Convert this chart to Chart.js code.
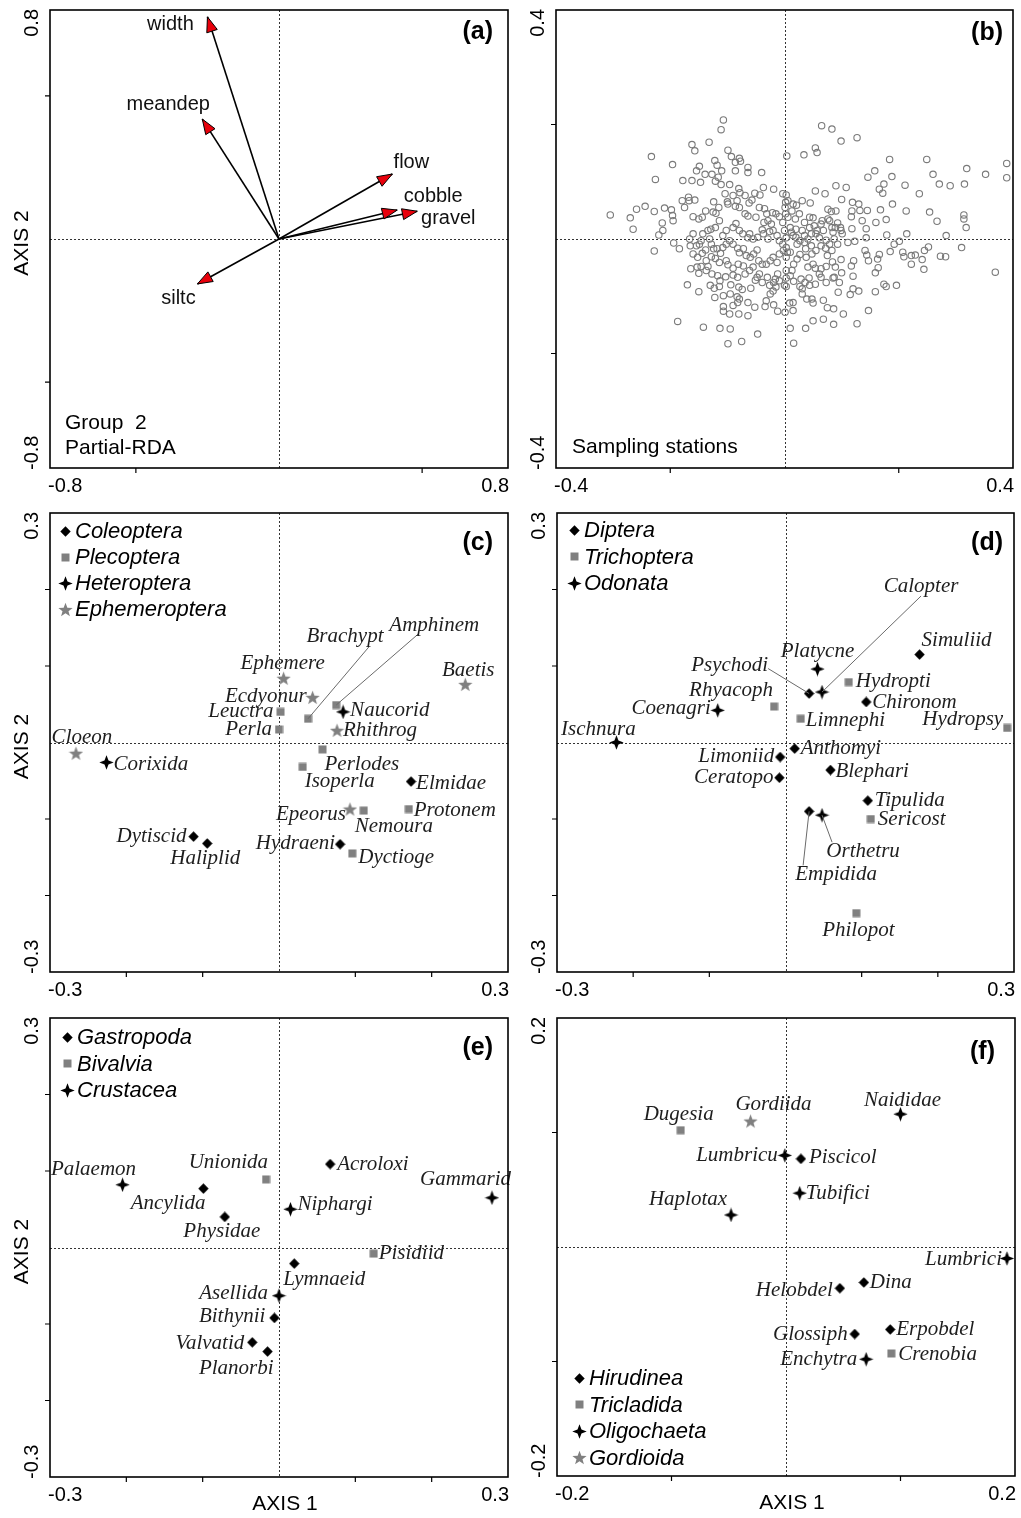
<!DOCTYPE html>
<html>
<head>
<meta charset="utf-8">
<script src="https://cdn.jsdelivr.net/npm/chart.js@4.4.1/dist/chart.umd.min.js"></script>
<style>
  html, body { margin: 0; padding: 0; background: #fff; }
  #wrap { position: relative; width: 1021px; height: 1518px; }
  canvas { position: absolute; }
</style>
</head>
<body>
<div id="wrap">
  <canvas id="pa" width="520" height="500" style="left:0;top:0"></canvas>
  <canvas id="pb" width="501" height="500" style="left:520px;top:0"></canvas>
  <canvas id="pc" width="520" height="505" style="left:0;top:500px"></canvas>
  <canvas id="pd" width="501" height="505" style="left:520px;top:500px"></canvas>
  <canvas id="pe" width="520" height="513" style="left:0;top:1005px"></canvas>
  <canvas id="pf" width="501" height="513" style="left:520px;top:1005px"></canvas>
</div>
<script>
// (a) environmental variables (biplot scores)
const envNames = ["width", "meandep", "flow", "cobble", "gravel", "siltc"];
const envAxis1 = [-0.250, -0.268, 0.396, 0.413, 0.483, -0.285];
const envAxis2 = [0.776, 0.419, 0.227, 0.101, 0.097, -0.157];

// (b) sampling stations [axis1, axis2]
const stationScores = [
  [-0.107,0.208],[-0.111,0.191],[0.065,0.198],[0.083,0.192],[0.127,0.177],[0.099,0.171],[-0.132,0.169],[-0.162,0.165],
  [-0.157,0.154],[-0.099,0.155],[0.054,0.159],[0.057,0.151],[-0.233,0.144],[0.004,0.145],[0.034,0.147],[-0.093,0.144],
  [-0.079,0.141],[-0.077,0.136],[-0.086,0.134],[-0.122,0.137],[-0.118,0.129],[-0.196,0.130],[0.184,0.139],[0.249,0.139],
  [0.389,0.132],[0.319,0.123],[0.352,0.113],[0.389,0.107],[0.260,0.113],[0.158,0.119],[0.146,0.108],[0.188,0.109],
  [0.271,0.096],[0.290,0.093],[0.315,0.096],[0.211,0.094],[0.236,0.079],[0.254,0.047],[0.267,0.031],[0.314,0.042],
  [0.314,0.035],[0.318,0.020],[0.283,0.006],[0.214,0.009],[0.310,-0.015],[0.273,-0.030],[0.282,-0.031],[0.369,-0.058],
  [0.244,-0.053],[0.213,0.049],[0.179,0.007],
  [-0.226,0.104],[-0.178,0.102],[-0.162,0.102],[-0.147,0.099],[-0.139,0.113],[-0.149,0.127],[-0.154,0.119],[-0.127,0.113],
  [-0.116,0.108],[-0.110,0.119],[-0.121,0.101],[-0.111,0.095],[-0.096,0.095],[-0.086,0.119],[-0.064,0.125],[-0.064,0.116],
  [-0.040,0.116],[-0.080,0.088],[-0.078,0.081],[-0.037,0.090],[-0.019,0.087],[-0.052,0.080],[-0.043,0.077],[-0.104,0.079],
  [-0.090,0.076],[-0.069,0.076],[-0.057,0.068],[-0.062,0.063],[-0.083,0.067],[-0.100,0.065],[-0.124,0.065],[-0.157,0.068],
  [-0.168,0.073],[-0.179,0.067],[-0.244,0.057],[-0.259,0.052],[-0.228,0.048],[-0.270,0.037],[-0.265,0.017],[-0.305,0.042],
  [-0.220,0.007],[-0.213,0.015],[-0.214,0.028],[-0.210,0.054],[-0.198,0.051],[-0.196,0.041],[-0.195,0.032],[-0.194,-0.007],
  [-0.184,-0.017],[-0.228,-0.021],[-0.160,0.039],[-0.150,0.035],[-0.175,0.055],[-0.167,0.067],[-0.144,0.038],[-0.138,0.049],
  [-0.125,0.047],[-0.120,0.045],[-0.115,0.055],[-0.099,0.061],[-0.086,0.057],[-0.079,0.055],[-0.069,0.044],[-0.064,0.040],
  [-0.050,0.038],[-0.044,0.055],[-0.035,0.053],[-0.031,0.044],[-0.021,0.046],[-0.015,0.044],[-0.029,0.032],[-0.036,0.029],
  [-0.023,0.026],[-0.009,0.039],[0.002,0.044],[0.001,0.055],[-0.003,0.079],[0.003,0.077],[0.006,0.067],[0.015,0.061],
  [0.021,0.059],[0.013,0.049],[0.031,0.067],[0.045,0.063],[0.054,0.084],[0.071,0.079],[0.090,0.093],[0.108,0.090],
  [0.100,0.069],[0.119,0.064],[0.130,0.061],[0.118,0.049],[0.132,0.050],[0.145,0.050],[0.168,0.051],[0.178,0.034],
  [0.160,0.029],[0.136,0.032],[0.117,0.039],[0.090,0.049],[0.082,0.048],[0.076,0.052],[0.076,0.035],[0.066,0.032],
  [0.050,0.037],[0.044,0.038],[0.035,0.029],[0.026,0.044],[0.019,0.035],[0.010,0.020],[0.020,0.017],[0.031,0.015],
  [0.035,0.006],[0.047,0.009],[0.057,0.015],[0.068,0.015],[0.061,0.002],[0.073,-0.002],[0.085,0.012],[0.089,0.020],
  [0.099,0.015],[0.087,0.000],[0.118,0.018],[0.143,0.018],[0.143,0.002],[0.123,-0.004],[0.141,-0.020],[0.144,-0.028],
  [0.147,-0.038],[0.166,-0.027],[0.163,-0.035],[0.164,-0.050],[0.159,-0.059],[0.185,-0.022],[0.192,-0.009],[0.201,-0.004],
  [0.207,-0.023],[0.209,-0.031],[0.222,-0.029],[0.229,-0.028],[0.222,-0.044],[0.241,-0.036],[0.245,-0.020],[0.252,-0.014],
  [-0.170,-0.080],[-0.150,-0.092],[-0.187,-0.144],[-0.142,-0.154],[-0.113,-0.156],[-0.095,-0.157],[-0.099,-0.183],[-0.075,-0.179],
  [-0.047,-0.166],[0.016,-0.182],[0.010,-0.156],[0.037,-0.156],[0.050,-0.143],[0.068,-0.140],[0.086,-0.149],[0.127,-0.148],
  [0.103,-0.131],[0.086,-0.122],[0.075,-0.120],[0.147,-0.125],[0.068,-0.107],[0.048,-0.105],[0.050,-0.112],[0.039,-0.105],
  [0.031,-0.096],[0.031,-0.087],[0.015,-0.111],[0.009,-0.112],[0.015,-0.125],[0.001,-0.128],[-0.012,-0.126],[-0.019,-0.115],
  [-0.034,-0.118],[-0.032,-0.108],[-0.052,-0.119],[-0.064,-0.134],[-0.080,-0.131],[-0.096,-0.131],[-0.107,-0.126],[-0.107,-0.118],
  [-0.090,-0.116],[-0.082,-0.111],[-0.079,-0.105],[-0.064,-0.111],[-0.083,-0.101],[-0.095,-0.096],[-0.107,-0.099],[-0.122,-0.102],
  [-0.130,-0.081],[-0.123,-0.086],[-0.114,-0.083],[-0.094,-0.080],[-0.080,-0.084],[-0.074,-0.088],[-0.059,-0.086],[-0.025,-0.096],
  [-0.020,-0.091],[-0.015,-0.084],[0.000,-0.081],[0.003,-0.068],[0.010,-0.064],[0.013,-0.055],[0.029,-0.070],[0.036,-0.076],
  [0.043,-0.068],[0.054,-0.079],[0.073,-0.076],[0.085,-0.068],[0.096,-0.076],[0.094,-0.093],[0.115,-0.097],[0.120,-0.087],
  [0.130,-0.091],[0.159,-0.092],[0.174,-0.079],[0.178,-0.083],[0.196,-0.081],[0.121,-0.038],[0.117,-0.047],[0.120,-0.065],
  [0.100,-0.059],[0.099,-0.036],[0.084,-0.040],[0.075,-0.029],[0.072,-0.016],[0.083,-0.020],[0.054,-0.051],[0.061,-0.061],
  [0.064,-0.052],[0.050,-0.044],[0.041,-0.049],[0.048,-0.026],[0.055,-0.020],[0.038,-0.032],[0.037,-0.017],[0.027,-0.027],
  [0.022,-0.035],[0.016,-0.044],[0.003,-0.055],[0.003,-0.032],[0.005,-0.023],[0.003,-0.015],[-0.003,-0.009],[-0.009,-0.003],
  [-0.013,0.006],[-0.020,0.015],[-0.026,0.013],[-0.029,0.000],[-0.037,0.009],[-0.039,0.016],[-0.047,0.003],[-0.055,0.000],
  [-0.061,0.009],[-0.064,0.002],[-0.073,0.009],[-0.079,0.015],[-0.085,0.027],[-0.090,0.020],[-0.102,0.015],[-0.108,0.006],
  [-0.114,0.032],[-0.121,0.020],[-0.129,0.017],[-0.134,0.015],[-0.143,0.009],[-0.146,-0.003],[-0.149,-0.009],[-0.154,-0.012],
  [-0.165,-0.012],[-0.166,0.000],[-0.160,0.009],[-0.131,0.000],[-0.128,-0.009],[-0.124,-0.017],[-0.118,-0.017],[-0.112,-0.025],
  [-0.108,-0.015],[-0.102,-0.009],[-0.096,-0.003],[-0.090,-0.009],[-0.082,-0.016],[-0.079,-0.024],[-0.072,-0.017],[-0.067,-0.029],
  [-0.060,-0.032],[-0.054,-0.026],[-0.048,-0.019],[-0.045,-0.038],[-0.039,-0.044],[-0.032,-0.044],[-0.025,-0.038],[-0.020,-0.032],
  [-0.013,-0.041],[-0.009,-0.026],[-0.002,-0.020],[0.010,-0.023],[0.022,-0.009],[0.027,-0.003],[0.035,-0.006],[0.047,-0.012],
  [0.064,-0.012],[0.079,-0.009],[0.093,-0.009],[0.101,0.009],[0.111,-0.006],[0.089,-0.049],[0.087,-0.067],[0.073,-0.048],
  [0.064,-0.067],[0.044,-0.081],[0.027,-0.083],[0.016,-0.074],[0.003,-0.083],[-0.009,-0.073],[-0.016,-0.070],[-0.030,-0.067],
  [-0.044,-0.061],[-0.051,-0.072],[-0.061,-0.055],[-0.072,-0.047],[-0.081,-0.044],[-0.090,-0.051],[-0.099,-0.045],[-0.102,-0.038],
  [-0.114,-0.041],[-0.121,-0.034],[-0.128,-0.031],[-0.137,-0.038],[-0.134,-0.048],[-0.146,-0.048],[-0.153,-0.049],[-0.164,-0.052],
  [-0.150,-0.060],[-0.137,-0.055],[-0.127,-0.061],[-0.117,-0.064],[-0.113,-0.073],[-0.103,-0.066],[-0.090,-0.063],[-0.082,-0.067],
  [-0.069,-0.061],[-0.055,-0.049],[-0.048,-0.067],[-0.039,-0.076],[-0.026,-0.081],[-0.019,-0.076],[-0.012,-0.061],[-0.160,-0.026],
  [-0.152,-0.032],[-0.144,-0.025],[-0.138,-0.019],
  [0.002,0.064],[0.006,0.038],[-0.003,0.029],[0.000,0.015],[0.003,0.002],[0.012,0.012],[0.015,0.006],[0.020,0.003],
  [0.044,0.020],[0.052,0.023],[0.055,0.009],[0.041,0.000],[0.064,0.026],[0.079,0.032],[0.093,0.028],[0.098,0.020],
  [0.083,0.020],[0.166,0.087],[0.174,0.096],[0.172,0.080],[0.189,0.061]
];

// (c) insects I
const cGroups = ["Coleoptera", "Plecoptera", "Heteroptera", "Ephemeroptera"];
const cTaxa = ["Dytiscid","Haliplid","Hydraeni","Elmidae","Leuctra","Perla","Brachypt","Amphinem","Perlodes","Isoperla",
  "Nemoura","Protonem","Dyctioge","Naucorid","Corixida","Ephemere","Ecdyonur","Rhithrog","Epeorus","Baetis","Cloeon"];
const cGroup = [0,0,0,0,1,1,1,1,1,1,1,1,1,2,2,3,3,3,3,3,3];
const cAxis1 = [-0.112,-0.094,0.080,0.173,0.002,0.000,0.038,0.075,0.057,0.031,0.111,0.170,0.096,0.084,-0.226,0.006,0.044,0.076,0.093,0.244,-0.266];
const cAxis2 = [-0.123,-0.132,-0.133,-0.051,0.040,0.017,0.031,0.049,-0.009,-0.032,-0.089,-0.087,-0.145,0.040,-0.026,0.084,0.059,0.016,-0.087,0.076,-0.014];

// (d) insects II
const dGroups = ["Diptera", "Trichoptera", "Odonata"];
const dTaxa = ["Psychodi","Simuliid","Chironom","Anthomyi","Limoniid","Ceratopo","Blephari","Tipulida","Empidida",
  "Hydropti","Rhyacoph","Limnephi","Hydropsy","Sericost","Philopot","Platycne","Calopter","Coenagri","Ischnura","Orthetru"];
const dGroup = [0,0,0,0,0,0,0,0,0,1,1,1,1,1,1,2,2,2,2,2];
const dAxis1 = [0.031,0.176,0.106,0.012,-0.007,-0.008,0.059,0.108,0.031,0.083,-0.015,0.020,0.291,0.112,0.093,0.042,0.048,-0.089,-0.222,0.048];
const dAxis2 = [0.064,0.115,0.053,-0.008,-0.019,-0.046,-0.036,-0.076,-0.090,0.079,0.047,0.031,0.019,-0.100,-0.223,0.096,0.066,0.042,0.000,-0.095];

// (e) molluscs and crustaceans
const eGroups = ["Gastropoda", "Bivalvia", "Crustacea"];
const eTaxa = ["Acroloxi","Ancylida","Physidae","Lymnaeid","Bithynii","Valvatid","Planorbi","Unionida","Pisidiid",
  "Palaemon","Niphargi","Gammarid","Asellida"];
const eGroup = [0,0,0,0,0,0,0,1,1,2,2,2,2];
const eAxis1 = [0.067,-0.099,-0.071,0.020,-0.006,-0.035,-0.015,-0.017,0.124,-0.205,0.015,0.279,0.000];
const eAxis2 = [0.109,0.077,0.040,-0.021,-0.092,-0.124,-0.136,0.089,-0.008,0.082,0.050,0.065,-0.063];

// (f) worms
const fGroups = ["Hirudinea", "Tricladida", "Oligochaeta", "Gordioida"];
const fTaxa = ["Piscicol","Helobdel","Dina","Glossiph","Erpobdel","Dugesia","Crenobia","Naididae","Lumbricu","Tubifici",
  "Haplotax","Lumbrici","Enchytra","Gordiida"];
const fGroup = [0,0,0,0,0,1,1,2,2,2,2,2,2,3];
const fAxis1 = [0.013,0.047,0.068,0.060,0.091,-0.092,0.092,0.100,-0.001,0.012,-0.048,0.193,0.070,-0.031];
const fAxis2 = [0.077,-0.036,-0.031,-0.076,-0.072,0.102,-0.093,0.116,0.080,0.047,0.028,-0.010,-0.098,0.110];

// label placement (pixels from the marker): [align, dx, dy]
const envPlace = { width: [-37, 8], meandep: [-34, -15], flow: [19, -12], cobble: [36, -14], gravel: [31, 7], siltc: [-19, 15] };
const cPlace = {
  Dytiscid: ['right', -7, 0], Haliplid: ['center', -2, 15], Hydraeni: ['right', -5, -1], Elmidae: ['left', 5, 2],
  Leuctra: ['right', -7, 0], Perla: ['right', -7, 0], Brachypt: ['center', 37, -82], Amphinem: ['center', 98, -80],
  Perlodes: ['left', 2, 15], Isoperla: ['left', 2, 15], Nemoura: ['left', -9, 16], Protonem: ['left', 5, 1],
  Dyctioge: ['left', 6, 4], Naucorid: ['left', 7, -1], Corixida: ['left', 7, 2], Ephemere: ['center', -1, -15],
  Ecdyonur: ['right', -6, -1], Rhithrog: ['left', 6, 0], Epeorus: ['right', -4, 5], Baetis: ['center', 3, -14],
  Cloeon: ['center', 6, -16]
};
const cLeaders = { Brachypt: [61, -72], Amphinem: [82, -71] };
const dPlace = {
  Psychodi: ['right', -41, -28], Simuliid: ['left', 2, -14], Chironom: ['left', 6, 1], Anthomyi: ['left', 6, 0],
  Limoniid: ['right', -6, -1], Ceratopo: ['right', -6, 0], Blephari: ['left', 5, 1], Tipulida: ['left', 7, 0],
  Empidida: ['center', 27, 63], Hydropti: ['left', 7, -1], Rhyacoph: ['right', -1, -16], Limnephi: ['left', 5, 2],
  Hydropsy: ['right', -4, -8], Sericost: ['left', 7, 0], Philopot: ['center', 2, 17], Platycne: ['center', 0, -18],
  Calopter: ['center', 99, -106], Coenagri: ['right', -7, -2], Ischnura: ['center', -18, -13], Orthetru: ['center', 41, 36]
};
const dLeaders = { Psychodi: [-41, -25], Calopter: [99, -96], Empidida: [-6, 54], Orthetru: [10, 27] };
const ePlace = {
  Acroloxi: ['left', 7, 0], Ancylida: ['right', 2, 15], Physidae: ['center', -3, 15], Lymnaeid: ['center', 30, 16],
  Bithynii: ['right', -9, -1], Valvatid: ['right', -8, 1], Planorbi: ['right', 6, 17], Unionida: ['right', 2, -17],
  Pisidiid: ['left', 5, 0], Palaemon: ['center', -29, -15], Niphargi: ['left', 7, -5], Gammarid: ['right', 19, -18],
  Asellida: ['right', -11, -2]
};
const fPlace = {
  Piscicol: ['left', 8, -1], Helobdel: ['right', -7, 2], Dina: ['left', 6, 0], Glossiph: ['right', -7, 0],
  Erpobdel: ['left', 6, 0], Dugesia: ['center', -2, -16], Crenobia: ['left', 7, 1], Naididae: ['center', 2, -14],
  Lumbricu: ['right', -7, 0], Tubifici: ['left', 6, 0], Haplotax: ['right', -4, -15], Lumbrici: ['right', -5, 1],
  Enchytra: ['right', -9, 0], Gordiida: ['center', 23, -17]
};

const GREY = '#808080';
const SANS = '"Liberation Sans", Arial, Helvetica, sans-serif';
const SERIF = '"Liberation Serif", "Times New Roman", serif';

// marker images
function makeMarker(kind) {
  const s = { diamond: 11, square: 9, plus: 15, star: 15 }[kind];
  const c = document.createElement('canvas');
  c.width = c.height = s;
  const g = c.getContext('2d');
  const m = s / 2;
  g.beginPath();
  if (kind === 'diamond') {
    g.moveTo(m, 0.3); g.lineTo(s - 0.3, m); g.lineTo(m, s - 0.3); g.lineTo(0.3, m);
    g.fillStyle = '#000';
  } else if (kind === 'square') {
    g.rect(0.5, 0.5, s - 1, s - 1);
    g.fillStyle = GREY;
  } else if (kind === 'plus') {
    const r = m - 0.3, q = 2;
    g.moveTo(m, m - r); g.lineTo(m + q, m - q); g.lineTo(m + r, m); g.lineTo(m + q, m + q);
    g.lineTo(m, m + r); g.lineTo(m - q, m + q); g.lineTo(m - r, m); g.lineTo(m - q, m - q);
    g.fillStyle = '#000';
  } else {
    for (let i = 0; i < 10; i++) {
      const rr = i % 2 ? m * 0.42 : m;
      const ang = -Math.PI / 2 + i * Math.PI / 5;
      g.lineTo(m + rr * Math.cos(ang), m + 0.7 + rr * Math.sin(ang));
    }
    g.fillStyle = GREY;
  }
  g.closePath();
  g.fill();
  return c;
}
const markers = {
  diamond: makeMarker('diamond'), square: makeMarker('square'),
  plus: makeMarker('plus'), star: makeMarker('star')
};
const groupKinds = ['diamond', 'square', 'plus', 'star'];

const decor = {
  id: 'decor',
  beforeDatasetsDraw(chart, args, o) {
    const { ctx, chartArea: a, scales: { x, y } } = chart;
    ctx.save();
    ctx.strokeStyle = '#333';
    ctx.lineWidth = 1;
    ctx.setLineDash([2, 2]);
    const px = Math.round(x.getPixelForValue(0)) + 0.5;
    const py = Math.round(y.getPixelForValue(0)) + 0.5;
    ctx.beginPath();
    ctx.moveTo(px, a.top); ctx.lineTo(px, a.bottom);
    ctx.moveTo(a.left, py); ctx.lineTo(a.right, py);
    ctx.stroke();
    ctx.restore();
  },
  afterDatasetsDraw(chart, args, o) {
    const { ctx, chartArea: a, scales: { x, y } } = chart;
    ctx.save();
    ctx.textBaseline = 'middle';

    // arrowheads + labels for the environmental variables
    if (o.arrows) {
      const ox = x.getPixelForValue(0), oy = y.getPixelForValue(0);
      ctx.font = '20px ' + SANS;
      ctx.textAlign = 'center';
      envNames.forEach((n, i) => {
        const tx = x.getPixelForValue(envAxis1[i]), ty = y.getPixelForValue(envAxis2[i]);
        const ang = Math.atan2(ty - oy, tx - ox);
        const bx = tx - 15 * Math.cos(ang), by = ty - 15 * Math.sin(ang);
        const nx = -Math.sin(ang) * 5.5, ny = Math.cos(ang) * 5.5;
        ctx.beginPath();
        ctx.moveTo(tx, ty); ctx.lineTo(bx + nx, by + ny); ctx.lineTo(bx - nx, by - ny); ctx.closePath();
        ctx.fillStyle = '#e8000b'; ctx.fill();
        ctx.strokeStyle = '#000'; ctx.lineWidth = 1; ctx.stroke();
        ctx.fillStyle = '#111';
        ctx.fillText(n, tx + envPlace[n][0], ty + envPlace[n][1]);
      });
    }

    // taxon labels
    if (o.taxa) {
      const t = o.taxa;
      ctx.font = 'italic 21px ' + SERIF;
      t.names.forEach((n, i) => {
        const px = x.getPixelForValue(t.ax1[i]), py = y.getPixelForValue(t.ax2[i]);
        const p = t.place[n];
        if (t.leaders && t.leaders[n]) {
          ctx.strokeStyle = '#6a6a6a'; ctx.lineWidth = 1;
          ctx.beginPath();
          ctx.moveTo(px + t.leaders[n][0], py + t.leaders[n][1]);
          ctx.lineTo(px, py);
          ctx.stroke();
        }
        ctx.fillStyle = '#1e1e1e';
        ctx.textAlign = p[0];
        ctx.fillText(n, px + p[1], py + p[2]);
      });
    }

    // legend
    if (o.legend) {
      const L = o.legend;
      ctx.font = 'italic 22px ' + SANS;
      ctx.textAlign = 'left';
      ctx.fillStyle = '#000';
      L.groups.forEach((g, i) => {
        const mx = a.left + L.at[0], my = a.top + L.at[1] + i * L.step;
        const img = markers[groupKinds[i]];
        ctx.drawImage(img, Math.round(mx - img.width / 2), Math.round(my - img.height / 2));
        ctx.fillText(g, mx + 10, my + 1);
      });
    }
    ctx.restore();
  },
  afterDraw(chart, args, o) {
    const { ctx, chartArea: a, scales: { x, y } } = chart;
    ctx.save();
    // frame
    ctx.strokeStyle = '#000';
    ctx.lineWidth = 1.6;
    ctx.strokeRect(a.left, a.top, a.right - a.left, a.bottom - a.top);
    // tick marks
    ctx.lineWidth = 1.2;
    ctx.beginPath();
    o.ticks.forEach(v => {
      const px = x.getPixelForValue(v), py = y.getPixelForValue(v);
      ctx.moveTo(px, a.bottom); ctx.lineTo(px, a.bottom + 5);
      ctx.moveTo(a.left, py); ctx.lineTo(a.left - 5, py);
    });
    ctx.stroke();
    // end labels
    ctx.fillStyle = '#000';
    ctx.font = '20px ' + SANS;
    ctx.textBaseline = 'middle';
    ctx.textAlign = 'left';
    ctx.fillText('-' + o.endText, a.left - 2, a.bottom + 18);
    ctx.textAlign = 'right';
    ctx.fillText(o.endText, a.right + 1, a.bottom + 18);
    ctx.save();
    ctx.translate(a.left - 18, a.top - 1);
    ctx.rotate(-Math.PI / 2);
    ctx.textAlign = 'right';
    ctx.fillText(o.endText, 0, 0);
    ctx.restore();
    ctx.save();
    ctx.translate(a.left - 18, a.bottom + 2);
    ctx.rotate(-Math.PI / 2);
    ctx.textAlign = 'left';
    ctx.fillText('-' + o.endText, 0, 0);
    ctx.restore();
    // axis titles
    ctx.font = '21px ' + SANS;
    if (o.axis2) {
      ctx.save();
      ctx.translate(a.left - 28, (a.top + a.bottom) / 2 + 4);
      ctx.rotate(-Math.PI / 2);
      ctx.textAlign = 'center';
      ctx.fillText('AXIS 2', 0, 0);
      ctx.restore();
    }
    if (o.axis1) {
      ctx.textAlign = 'center';
      ctx.fillText('AXIS 1', (a.left + a.right) / 2 + 6, a.bottom + 27);
    }
    // notes
    (o.notes || []).forEach(n => {
      ctx.textAlign = 'left';
      ctx.fillText(n[0], a.left + n[1], a.top + n[2]);
    });
    // panel letter
    ctx.font = 'bold 25px ' + SANS;
    ctx.textAlign = 'right';
    ctx.fillText(o.letter, a.right - o.letterAt[0], a.top + o.letterAt[1]);
    ctx.restore();
  }
};

function groupSets(groups, taxa, grp, ax1, ax2) {
  return groups.map((g, k) => ({
    label: g,
    data: taxa.map((n, i) => ({ x: ax1[i], y: ax2[i], g: grp[i] })).filter(p => p.g === k),
    pointStyle: markers[groupKinds[k]],
    pointRadius: 5,
    clip: false
  }));
}

function makePanel(id, padding, lim, datasets, decorOpts) {
  return new Chart(document.getElementById(id), {
    type: 'scatter',
    data: { datasets },
    options: {
      responsive: false,
      animation: false,
      events: [],
      layout: { padding },
      scales: {
        x: { type: 'linear', display: false, min: -lim, max: lim },
        y: { type: 'linear', display: false, min: -lim, max: lim }
      },
      plugins: { legend: { display: false }, tooltip: { enabled: false }, decor: decorOpts }
    },
    plugins: [decor]
  });
}

// (a)
makePanel('pa', { left: 50, top: 10, right: 12, bottom: 32 }, 0.8,
  envNames.map((n, i) => ({
    label: n,
    data: [{ x: 0, y: 0 }, { x: envAxis1[i], y: envAxis2[i] }],
    showLine: true, borderColor: '#000', borderWidth: 1.6, pointRadius: 0, clip: false
  })),
  { arrows: true, ticks: [-0.5, 0.5], endText: '0.8', axis2: true, letter: '(a)', letterAt: [15, 22],
    notes: [['Group  2', 15, 413], ['Partial-RDA', 15, 438]] });

// (b)
makePanel('pb', { left: 36, top: 10, right: 8, bottom: 32 }, 0.4,
  [{
    label: 'Sampling stations',
    data: stationScores.map(p => ({ x: p[0], y: p[1] })),
    pointStyle: 'circle', pointRadius: 3.2, borderWidth: 1.1, borderColor: '#7a7a7a', backgroundColor: 'rgba(0,0,0,0)'
  }],
  { ticks: [-0.2, 0.2], endText: '0.4', letter: '(b)', letterAt: [10, 23], notes: [['Sampling stations', 16, 437]] });

// (c)
makePanel('pc', { left: 50, top: 13, right: 12, bottom: 33 }, 0.3,
  groupSets(cGroups, cTaxa, cGroup, cAxis1, cAxis2),
  { ticks: [-0.2, -0.1, 0.1, 0.2], endText: '0.3', axis2: true, letter: '(c)', letterAt: [15, 30],
    taxa: { names: cTaxa, ax1: cAxis1, ax2: cAxis2, place: cPlace, leaders: cLeaders },
    legend: { groups: cGroups, at: [15, 18], step: 26 } });

// (d)
makePanel('pd', { left: 37, top: 13, right: 7, bottom: 33 }, 0.3,
  groupSets(dGroups, dTaxa, dGroup, dAxis1, dAxis2),
  { ticks: [-0.2, -0.1, 0.1, 0.2], endText: '0.3', letter: '(d)', letterAt: [11, 30],
    taxa: { names: dTaxa, ax1: dAxis1, ax2: dAxis2, place: dPlace, leaders: dLeaders },
    legend: { groups: dGroups, at: [17, 17], step: 26.5 } });

// (e)
makePanel('pe', { left: 50, top: 13, right: 12, bottom: 41 }, 0.3,
  groupSets(eGroups, eTaxa, eGroup, eAxis1, eAxis2),
  { ticks: [-0.2, -0.1, 0.1, 0.2], endText: '0.3', axis2: true, axis1: true, letter: '(e)', letterAt: [15, 30],
    taxa: { names: eTaxa, ax1: eAxis1, ax2: eAxis2, place: ePlace },
    legend: { groups: eGroups, at: [17, 19], step: 26.5 } });

// (f)
makePanel('pf', { left: 37, top: 13, right: 4, bottom: 42 }, 0.2,
  groupSets(fGroups, fTaxa, fGroup, fAxis1, fAxis2),
  { ticks: [-0.1, 0.1], endText: '0.2', axis1: true, letter: '(f)', letterAt: [20, 34],
    taxa: { names: fTaxa, ax1: fAxis1, ax2: fAxis2, place: fPlace },
    legend: { groups: fGroups, at: [22, 360], step: 26.5 } });
</script>
</body>
</html>
